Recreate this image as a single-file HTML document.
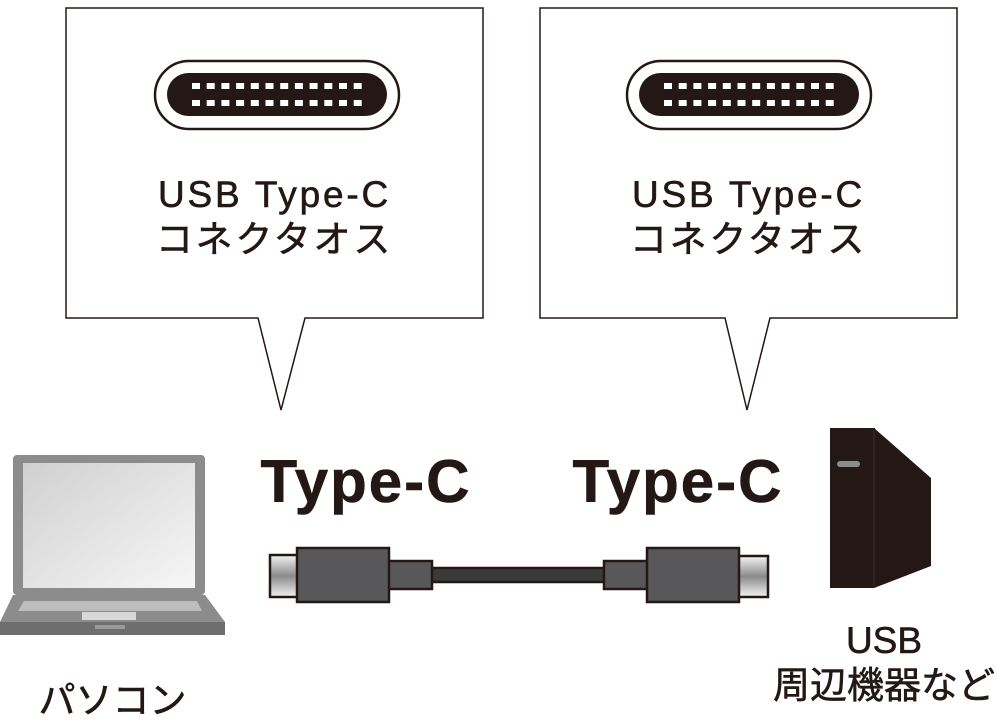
<!DOCTYPE html>
<html><head><meta charset="utf-8"><style>
body{margin:0;width:1003px;height:728px;background:#fff;overflow:hidden;position:relative;font-family:"Liberation Sans","Noto Sans CJK JP",sans-serif;color:#231815}
.t{position:absolute;white-space:nowrap;text-align:center;-webkit-text-stroke:0.6px #231815}
</style></head><body>
<svg width="1003" height="728" style="position:absolute;left:0;top:0">
<defs>
<linearGradient id="m" x1="0" y1="0" x2="0" y2="1"><stop offset="0" stop-color="#f4f4f4"/><stop offset="0.5" stop-color="#8a8a8a"/><stop offset="1" stop-color="#f4f4f4"/></linearGradient>
<linearGradient id="s" x1="0" y1="0" x2="1" y2="1"><stop offset="0" stop-color="#d0d0d0"/><stop offset="1" stop-color="#f6f6f6"/></linearGradient>
<g id="conn">
<rect x="155" y="61" width="244" height="68" rx="34" fill="#fff" stroke="#231815" stroke-width="2.5"/>
<rect x="167" y="73" width="220" height="43" rx="21.5" fill="#231815"/>
<g fill="#fff">
<rect x="192" y="83" width="8" height="6"/><rect x="206.7" y="83" width="8" height="6"/><rect x="221.4" y="83" width="8" height="6"/><rect x="236.1" y="83" width="8" height="6"/><rect x="250.8" y="83" width="8" height="6"/><rect x="265.5" y="83" width="8" height="6"/><rect x="280.2" y="83" width="8" height="6"/><rect x="294.9" y="83" width="8" height="6"/><rect x="309.6" y="83" width="8" height="6"/><rect x="324.3" y="83" width="8" height="6"/><rect x="339" y="83" width="8" height="6"/><rect x="353.7" y="83" width="8" height="6"/>
<rect x="192" y="100" width="8" height="6"/><rect x="206.7" y="100" width="8" height="6"/><rect x="221.4" y="100" width="8" height="6"/><rect x="236.1" y="100" width="8" height="6"/><rect x="250.8" y="100" width="8" height="6"/><rect x="265.5" y="100" width="8" height="6"/><rect x="280.2" y="100" width="8" height="6"/><rect x="294.9" y="100" width="8" height="6"/><rect x="309.6" y="100" width="8" height="6"/><rect x="324.3" y="100" width="8" height="6"/><rect x="339" y="100" width="8" height="6"/><rect x="353.7" y="100" width="8" height="6"/>
</g></g>
</defs>
<path d="M66 8H483V318H305L281 410L258 318H66Z" fill="#fff" stroke="#231815" stroke-width="1.5"/>
<path d="M540 8H957V318H770L747 410L725 318H540Z" fill="#fff" stroke="#231815" stroke-width="1.5"/>
<use href="#conn"/>
<use href="#conn" x="472"/>
<rect x="13" y="455" width="192" height="140" rx="4" fill="#8c8c8c"/>
<rect x="23" y="463" width="172" height="125" fill="url(#s)"/>
<path d="M13 595H205L225 622H0Z" fill="#8c8c8c"/>
<rect x="0" y="622" width="225" height="13" fill="#6e6e6e"/>
<path d="M24 601H197L202 611H18Z" fill="#bdbdbd"/>
<rect x="82" y="612" width="54" height="8" fill="#d8d8d8"/>
<rect x="95" y="625" width="30" height="4" fill="#9a9a9a"/>
<g stroke="#231815" stroke-width="2.5">
<rect x="430" y="568" width="176" height="14" fill="#3a3a3a"/>
<rect x="270" y="555" width="30" height="42" fill="url(#m)"/>
<rect x="388" y="561" width="44" height="28" fill="#58585a"/>
<rect x="297" y="548" width="92" height="54" fill="#58585a"/>
<rect x="738" y="556" width="30" height="41" fill="url(#m)"/>
<rect x="604" y="561" width="44" height="28" fill="#58585a"/>
<rect x="647" y="548" width="92" height="54" fill="#58585a"/>
</g>
<rect x="830" y="428" width="45" height="160" fill="#231815"/>
<path d="M874 428L931 478V566L874 588Z" fill="#231815"/>
<line x1="874" y1="430" x2="874" y2="588" stroke="#3a3030" stroke-width="1"/>
<rect x="837" y="461" width="23" height="6" rx="3" fill="#8c8c8c"/>
</svg>
<div class="t" style="left:66px;width:417px;top:172px;font-size:37px;line-height:45px;letter-spacing:2.8px">USB Type-C<br>コネクタオス</div>
<div class="t" style="left:540px;width:417px;top:172px;font-size:37px;line-height:45px;letter-spacing:2.8px">USB Type-C<br>コネクタオス</div>
<div class="t" style="left:236px;width:260px;top:447px;font-size:60px;font-weight:bold;line-height:70px;letter-spacing:2px">Type-C</div>
<div class="t" style="left:548px;width:260px;top:447px;font-size:60px;font-weight:bold;line-height:70px;letter-spacing:2px">Type-C</div>
<div class="t" style="left:20px;width:185px;top:679px;font-size:37px;line-height:44px">パソコン</div>
<div class="t" style="left:765px;width:238px;top:618px;font-size:37px;line-height:45px">USB<br>周辺機器など</div>
</body></html>
